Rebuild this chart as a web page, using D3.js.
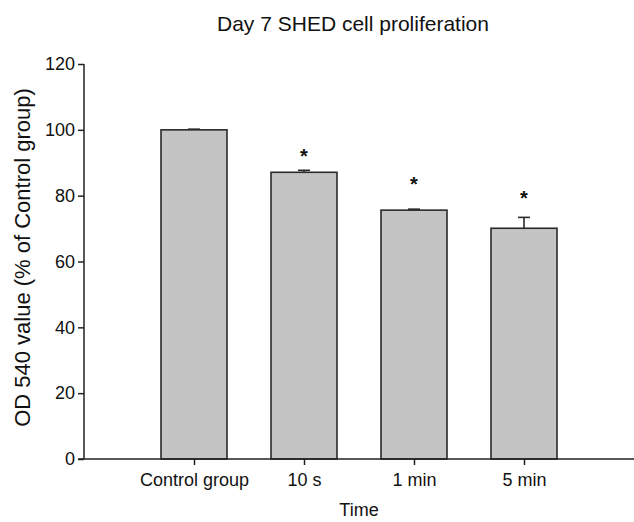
<!DOCTYPE html>
<html>
<head>
<meta charset="utf-8">
<script src="https://cdn.jsdelivr.net/npm/d3@7"></script>
<style>
  body { margin: 0; background: #fff; }
  text { font-family: "Liberation Sans", Arial, sans-serif; fill: #111; }
</style>
</head>
<body>
<script>
// chart data
var groups = ["Control group", "10 s", "1 min", "5 min"];
var means = [100, 87.1, 75.6, 70.1];
var errs = [0.2, 0.6, 0.3, 3.3];
var stars = ["", "*", "*", "*"];
var starLevels = [null, 93.4, 84.8, 80.4];
var yTicks = [0, 20, 40, 60, 80, 100, 120];

var W = 634, H = 522;
var margin = {left: 84, right: 0, top: 64, bottom: 63};

var svg = d3.select("body").append("svg")
    .attr("width", W)
    .attr("height", H);

// slots 1..4 on an axis running 0..5
var x = d3.scaleLinear()
    .domain([0, 5])
    .range([margin.left, W - margin.right]);

var y = d3.scaleLinear()
    .domain([0, 120])
    .range([H - margin.bottom, margin.top]);

var barW = 0.6; // in slot units

// bars
svg.selectAll("rect.bar")
    .data(means)
    .enter().append("rect")
    .attr("class", "bar")
    .attr("x", function(d, i) { return x(i + 1 - barW / 2); })
    .attr("width", function() { return x(barW) - x(0); })
    .attr("y", function(d) { return y(d); })
    .attr("height", function(d) { return y(0) - y(d); })
    .attr("fill", "#c4c4c4")
    .attr("stroke", "#2a2a2a")
    .attr("stroke-width", 1.6);

// upper error bars
var eb = svg.selectAll("g.err")
    .data(means)
    .enter().append("g")
    .attr("class", "err")
    .attr("stroke", "#2a2a2a")
    .attr("stroke-width", 1.6);
eb.append("line")
    .attr("x1", function(d, i) { return x(i + 1); })
    .attr("x2", function(d, i) { return x(i + 1); })
    .attr("y1", function(d) { return y(d); })
    .attr("y2", function(d, i) { return y(d + errs[i]); });
eb.append("line")
    .attr("x1", function(d, i) { return x(i + 1) - 6; })
    .attr("x2", function(d, i) { return x(i + 1) + 6; })
    .attr("y1", function(d, i) { return y(d + errs[i]); })
    .attr("y2", function(d, i) { return y(d + errs[i]); });

// significance stars
svg.selectAll("text.star")
    .data(stars)
    .enter().append("text")
    .attr("class", "star")
    .attr("x", function(d, i) { return x(i + 1); })
    .attr("y", function(d, i) { return starLevels[i] == null ? 0 : y(starLevels[i]) + 11; })
    .attr("text-anchor", "middle")
    .style("font-size", "20px")
    .style("font-weight", "bold")
    .text(function(d) { return d; });

// y axis
var yAxis = svg.append("g")
    .attr("transform", "translate(" + margin.left + ",0)")
    .call(d3.axisLeft(y).tickValues(yTicks).tickSize(6).tickPadding(3).tickSizeOuter(0));
yAxis.select(".domain").attr("stroke", "#222").attr("stroke-width", 1.5)
    .attr("d", "M0," + y(0) + "V" + y(120));
yAxis.selectAll(".tick line").attr("stroke", "#222").attr("stroke-width", 1.5);
yAxis.selectAll("text")
    .style("font-family", "'Liberation Sans', Arial, sans-serif")
    .style("font-size", "18px")
    .attr("fill", "#111");

// x axis
var xAxis = svg.append("g")
    .attr("transform", "translate(0," + y(0) + ")")
    .call(d3.axisBottom(x).tickValues([1, 2, 3, 4])
        .tickFormat(function(d) { return groups[d - 1]; })
        .tickSize(6).tickPadding(8).tickSizeOuter(0));
xAxis.select(".domain").attr("stroke", "#222").attr("stroke-width", 1.5)
    .attr("d", "M" + (margin.left - 6) + ",0H" + W);
xAxis.selectAll(".tick line").attr("stroke", "#222").attr("stroke-width", 1.5);
xAxis.selectAll("text")
    .style("font-family", "'Liberation Sans', Arial, sans-serif")
    .style("font-size", "18px")
    .attr("fill", "#111");

// title
svg.append("text")
    .attr("x", 353)
    .attr("y", 31)
    .attr("text-anchor", "middle")
    .style("font-size", "21px")
    .text("Day 7 SHED cell proliferation");

// axis titles
svg.append("text")
    .attr("x", x(2.5))
    .attr("y", 516)
    .attr("text-anchor", "middle")
    .style("font-size", "18px")
    .text("Time");

svg.append("text")
    .attr("transform", "translate(30," + ((y(0) + y(120)) / 2 - 4) + ") rotate(-90)")
    .attr("text-anchor", "middle")
    .style("font-size", "22px")
    .text("OD 540 value (% of Control group)");
</script>
</body>
</html>
